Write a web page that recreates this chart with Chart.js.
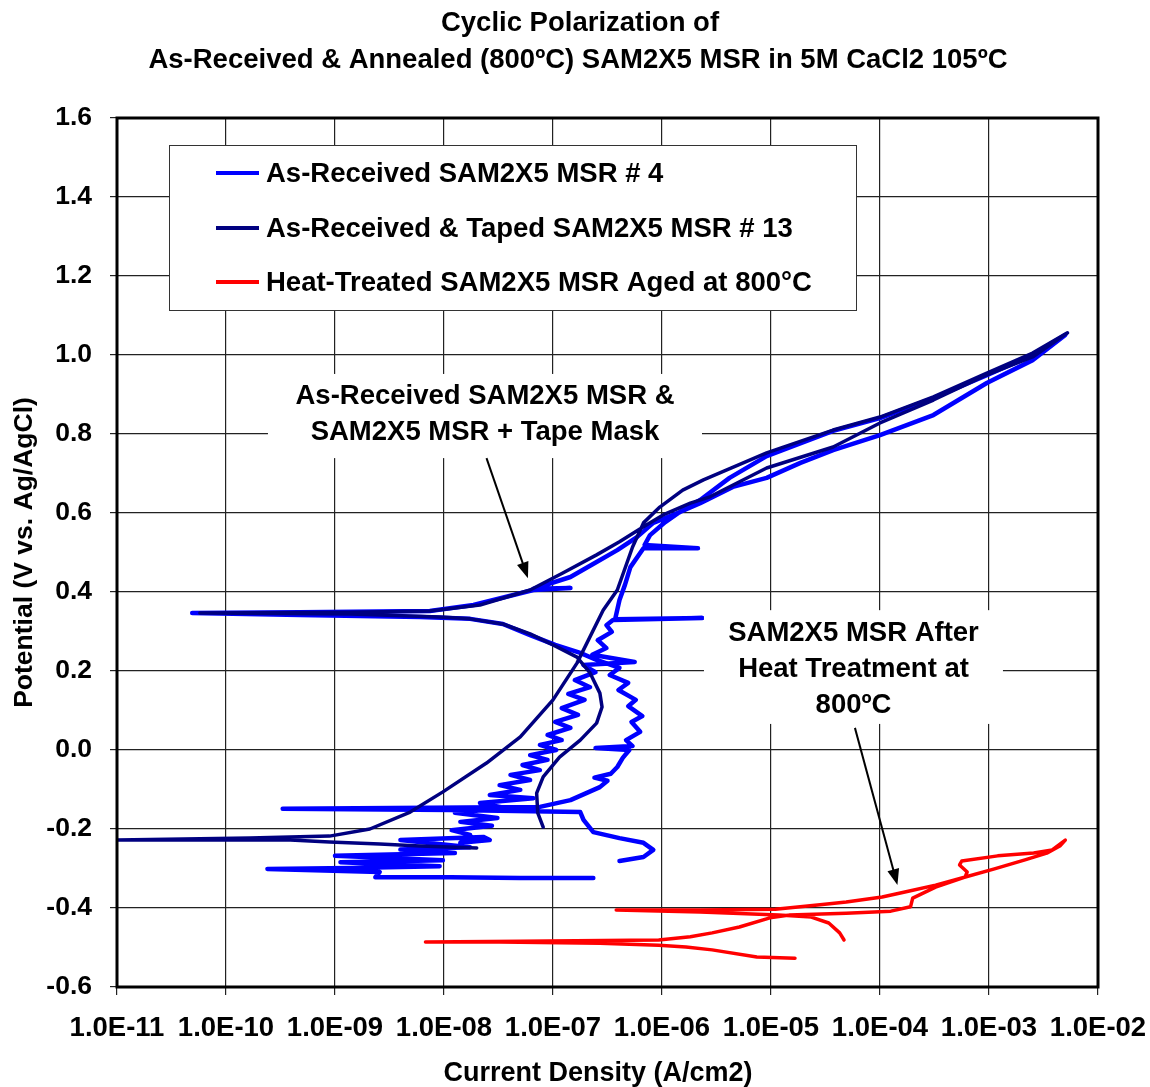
<!DOCTYPE html>
<html>
<head>
<meta charset="utf-8">
<title>Cyclic Polarization of SAM2X5 MSR</title>
<script src="https://cdn.jsdelivr.net/npm/chart.js@4.4.1/dist/chart.umd.min.js"></script>
<style>
  html, body { margin: 0; padding: 0; background: #fff; }
</style>
</head>
<body>
<canvas id="cpChart" width="1150" height="1087"></canvas>
<script>
const chartTitle = ['Cyclic Polarization of', 'As-Received & Annealed (800ºC) SAM2X5 MSR in 5M CaCl2 105ºC']
const seriesNames = [
    'As-Received SAM2X5 MSR # 4',
    'As-Received & Taped SAM2X5 MSR # 13',
    'Heat-Treated SAM2X5 MSR Aged at 800°C']
const seriesColors = ['#0000ff', '#000080', '#ff0000']

// decades shown on the current density axis (exponent of 10)
const xTickExp = [-11, -10, -9, -8, -7, -6, -5, -4, -3, -2]
const yTicks = [-0.6, -0.4, -0.2, 0.0, 0.2, 0.4, 0.6, 0.8, 1.0, 1.2, 1.4, 1.6]

// scans in acquisition order: log10 of current density (A/cm2), potential (V vs. Ag/AgCl)
const msr4LogI = [-6.63, -7.30, -7.94, -8.63, -8.59, -9.62, -8.86, -8.04, -8.95, -8.01,
    -9.00, -7.90, -8.40, -7.76, -8.40, -7.64, -7.58, -7.85,
    -7.76, -7.93, -7.56, -7.85, -7.51, -7.90, -7.44, -7.67, -7.18, -7.58,
    -7.30, -7.49, -7.21, -7.39, -7.12, -7.28, -7.05, -7.21, -6.97, -7.12,
    -6.92, -7.05, -6.84, -6.98, -6.77, -6.92, -6.71, -6.86, -6.66, -6.80,
    -6.61, -6.72, -6.25, -6.64, -6.51, -6.59, -6.46, -6.51, -6.45, -5.63,
    -6.43,
    -6.39, -6.34, -6.29, -6.17, -5.67, -6.16, -6.11, -5.97, -5.81, -5.65,
    -5.38, -5.04, -4.43, -4.00, -3.51, -3.02, -2.60, -2.30,
    -2.60, -3.02, -3.51, -4.00, -4.43, -4.73, -5.04, -5.35, -5.65, -5.83,
    -6.08, -6.23, -6.41, -6.60, -6.84, -7.18, -6.84, -7.18, -7.73, -8.13,
    -9.32, -10.31, -9.32, -8.22, -7.76, -7.46, -7.21, -6.98, -6.75, -6.60,
    -6.39, -6.48, -6.31, -6.40, -6.24, -6.31, -6.18, -6.28, -6.20, -6.33,
    -6.27, -6.61, -6.30, -6.36, -6.41, -6.47, -6.62, -6.50, -6.57, -6.84,
    -7.12, -9.48, -7.94, -6.75, -6.72, -6.63, -6.39, -6.17, -6.08, -6.17, -6.39]
const msr4E = [-0.324, -0.324, -0.322, -0.322, -0.309, -0.301, -0.299, -0.294, -0.284, -0.279,
    -0.268, -0.261, -0.252, -0.246, -0.228, -0.220, -0.228, -0.235,
    -0.215, -0.203, -0.192, -0.182, -0.172, -0.159, -0.147, -0.134, -0.122, -0.114,
    -0.101, -0.089, -0.076, -0.063, -0.051, -0.038, -0.025, -0.013, 0.000, 0.013,
    0.025, 0.038, 0.056, 0.071, 0.089, 0.106, 0.127, 0.142, 0.159, 0.177,
    0.197, 0.215, 0.223, 0.241, 0.258, 0.278, 0.299, 0.316, 0.329, 0.334,
    0.331,
    0.380, 0.418, 0.463, 0.511, 0.511, 0.519, 0.544, 0.577, 0.608, 0.633,
    0.689, 0.744, 0.808, 0.840, 0.891, 0.949, 1.000, 1.051,
    0.987, 0.929, 0.848, 0.797, 0.759, 0.727, 0.689, 0.666, 0.625, 0.603,
    0.575, 0.539, 0.506, 0.476, 0.438, 0.408, 0.410, 0.405, 0.367, 0.352,
    0.349, 0.347, 0.342, 0.337, 0.332, 0.319, 0.291, 0.266, 0.246, 0.228,
    0.208, 0.190, 0.170, 0.152, 0.127, 0.111, 0.086, 0.071, 0.046, 0.025,
    0.010, 0.005, 0.000, -0.020, -0.043, -0.060, -0.070, -0.078, -0.094, -0.127,
    -0.144, -0.149, -0.152, -0.157, -0.177, -0.208, -0.223, -0.235, -0.253, -0.271, -0.281]

const msr13LogI = [-7.70, -8.22, -8.59, -9.05, -9.41, -11.0, -9.78, -9.05, -8.68, -8.31,
    -8.01, -7.61, -7.30, -7.00, -6.78, -6.54, -6.41, -6.27, -6.17, -6.02,
    -5.81, -5.62, -5.04, -4.43, -4.00, -3.51, -3.02, -2.60, -2.28,
    -2.60, -3.02, -3.51, -4.00, -4.43, -5.04, -5.56, -5.74, -5.99, -6.17,
    -6.39, -6.60, -6.91, -7.21, -7.67, -8.13, -8.86, -10.24, -8.86, -8.04,
    -7.76, -7.46, -7.21, -7.00, -6.78, -6.66, -6.57, -6.55, -6.60, -6.75,
    -6.94, -7.09, -7.15, -7.14, -7.09]
const msr13E = [-0.248, -0.243, -0.238, -0.233, -0.228, -0.228, -0.223, -0.218, -0.200, -0.157,
    -0.106, -0.033, 0.033, 0.127, 0.220, 0.354, 0.405, 0.514, 0.575, 0.615,
    0.658, 0.684, 0.752, 0.810, 0.843, 0.894, 0.954, 1.005, 1.056,
    0.995, 0.950, 0.886, 0.828, 0.767, 0.714, 0.641, 0.625, 0.595, 0.565,
    0.527, 0.494, 0.448, 0.405, 0.367, 0.352, 0.349, 0.347, 0.344, 0.337,
    0.332, 0.319, 0.294, 0.266, 0.235, 0.195, 0.144, 0.109, 0.068, 0.025,
    -0.018, -0.068, -0.109, -0.159, -0.195]

const heatLogI = [-4.78, -5.13, -5.54, -5.78, -6.03, -6.57, -7.49, -8.17, -7.30, -6.03,
    -5.74, -5.54, -5.29, -5.01, -4.83, -4.31, -3.90, -3.72, -3.70, -3.49,
    -3.22, -3.20, -3.27, -3.25, -2.92, -2.59, -2.42, -2.30,
    -2.35, -2.47, -2.67, -2.95, -3.25, -3.49, -3.73, -3.98, -4.31, -4.55,
    -4.96, -5.65, -6.42, -5.65, -4.93, -4.63, -4.47, -4.37, -4.33]
const heatE = [-0.527, -0.524, -0.506, -0.499, -0.494, -0.489, -0.486, -0.486, -0.484, -0.481,
    -0.473, -0.463, -0.448, -0.425, -0.418, -0.413, -0.408, -0.397, -0.375, -0.347,
    -0.322, -0.309, -0.291, -0.281, -0.268, -0.261, -0.253, -0.228,
    -0.243, -0.261, -0.278, -0.301, -0.324, -0.342, -0.357, -0.372, -0.385, -0.392,
    -0.403, -0.405, -0.405, -0.410, -0.418, -0.423, -0.438, -0.463, -0.481]

function toPoints(logI, e) {
    return logI.map((v, i) => ({ x: Math.pow(10, v), y: e[i] }))
}

function expLabel(v) {
    const n = Math.round(Math.log10(v))
    return '1.0E' + (n < 0 ? '-' : '+') + String(Math.abs(n)).padStart(2, '0')
}

const fontFamily = "'Liberation Sans', Arial, sans-serif"
const boldFont = size => ({ family: fontFamily, size: size, weight: 'bold' })

// title, frame, legend box, x axis title and callouts drawn on top of the plot
const overlays = {
    id: 'overlays',
    afterDatasetsDraw(chart) {
        const ctx = chart.ctx
        const a = chart.chartArea
        const xs = chart.scales.x
        const ys = chart.scales.y
        const px = v => xs.getPixelForValue(Math.pow(10, v))
        const py = v => ys.getPixelForValue(v)
        ctx.save()

        ctx.strokeStyle = '#000'
        ctx.lineWidth = 3
        ctx.strokeRect(a.left, a.top, a.right - a.left, a.bottom - a.top)

        ctx.fillStyle = '#000'
        ctx.textAlign = 'center'
        ctx.textBaseline = 'middle'
        ctx.font = 'bold 27.5px ' + fontFamily
        ctx.fillText(chartTitle[0], 580, 23)
        ctx.fillText(chartTitle[1], 578, 60)
        ctx.font = 'bold 27px ' + fontFamily
        ctx.fillText('Current Density (A/cm2)', 598, 1074)

        // legend
        const lx = a.left + 52, ly = a.top + 27
        ctx.fillStyle = '#fff'
        ctx.fillRect(lx, ly, 687, 165)
        ctx.strokeStyle = '#333'
        ctx.lineWidth = 1
        ctx.strokeRect(lx + 0.5, ly + 0.5, 687, 165)
        ctx.font = 'bold 27.5px ' + fontFamily
        ctx.textAlign = 'left'
        const rows = [56, 111, 165]
        chart.data.datasets.forEach((ds, i) => {
            const ry = a.top + rows[i]
            ctx.strokeStyle = ds.borderColor
            ctx.lineWidth = 4
            ctx.beginPath()
            ctx.moveTo(a.left + 99, ry - 1)
            ctx.lineTo(a.left + 142, ry - 1)
            ctx.stroke()
            ctx.fillStyle = '#000'
            ctx.fillText(ds.label, a.left + 149, ry)
        })

        // callouts: white box, centred lines of text, arrow to the curves
        function note(box, cx, lines, arrow) {
            ctx.fillStyle = '#fff'
            ctx.fillRect(px(box[0]), py(box[1]), px(box[2]) - px(box[0]), py(box[3]) - py(box[1]))
            ctx.fillStyle = '#000'
            ctx.textAlign = 'center'
            lines.forEach(l => ctx.fillText(l[0], px(cx), py(l[1]) + 2))
            const x0 = px(arrow[0]), y0 = py(arrow[1]), x1 = px(arrow[2]), y1 = py(arrow[3])
            const ang = Math.atan2(y1 - y0, x1 - x0)
            ctx.strokeStyle = '#000'
            ctx.lineWidth = 2
            ctx.beginPath()
            ctx.moveTo(x0, y0)
            ctx.lineTo(x1 - 12 * Math.cos(ang), y1 - 12 * Math.sin(ang))
            ctx.stroke()
            ctx.beginPath()
            ctx.moveTo(x1, y1)
            ctx.lineTo(x1 - 16 * Math.cos(ang) + 6 * Math.sin(ang), y1 - 16 * Math.sin(ang) - 6 * Math.cos(ang))
            ctx.lineTo(x1 - 16 * Math.cos(ang) - 6 * Math.sin(ang), y1 - 16 * Math.sin(ang) + 6 * Math.cos(ang))
            ctx.closePath()
            ctx.fill()
        }
        note([-9.615, 0.952, -5.633, 0.739], -7.624,
            [['As-Received SAM2X5 MSR &', 0.901], ['SAM2X5 MSR + Tape Mask', 0.810]],
            [-7.61, 0.739, -7.23, 0.435])
        note([-5.615, 0.354, -2.872, 0.066], -4.243,
            [['SAM2X5 MSR After', 0.301], ['Heat Treatment at', 0.210], ['800ºC', 0.119]],
            [-4.23, 0.056, -3.84, -0.342])

        ctx.restore()
    }
}

Chart.defaults.color = '#000'
Chart.defaults.font = boldFont(26)

const cpCtx = document.getElementById('cpChart').getContext('2d')
const cpChart = new Chart(cpCtx, {
    type: 'scatter',
    data: {
        datasets: [
            { label: seriesNames[0], data: toPoints(msr4LogI, msr4E), borderColor: seriesColors[0], borderWidth: 4.5, order: 2 },
            { label: seriesNames[1], data: toPoints(msr13LogI, msr13E), borderColor: seriesColors[1], borderWidth: 3.5, order: 1 },
            { label: seriesNames[2], data: toPoints(heatLogI, heatE), borderColor: seriesColors[2], borderWidth: 3.5, order: 0 }
        ].map(ds => Object.assign(ds, {
            showLine: true, pointRadius: 0, tension: 0,
            borderJoinStyle: 'round', borderCapStyle: 'round'
        }))
    },
    options: {
        responsive: false,
        animation: false,
        devicePixelRatio: 1,
        layout: { padding: { left: 0, right: 52, top: 118, bottom: 0 } },
        plugins: {
            legend: { display: false },
            tooltip: { enabled: false },
            title: { display: false }
        },
        scales: {
            x: {
                type: 'logarithmic',
                min: 1e-11,
                max: 1e-2,
                afterBuildTicks: s => { s.ticks = xTickExp.map(n => ({ value: Math.pow(10, n) })) },
                afterFit: s => { s.height = 100; s.paddingLeft = 0; s.paddingRight = 0 },
                ticks: { callback: v => expLabel(v), maxRotation: 0, autoSkip: false, padding: 17, font: boldFont(27.5) },
                grid: { color: '#222', lineWidth: 1.2, tickLength: 8 },
                border: { display: false }
            },
            y: {
                min: -0.6,
                max: 1.6,
                afterBuildTicks: s => { s.ticks = yTicks.map(v => ({ value: v })) },
                afterFit: s => { s.width = 117; s.paddingTop = 0; s.paddingBottom = 0 },
                ticks: { callback: v => v.toFixed(1), padding: 18, font: boldFont(26.5) },
                grid: { color: '#222', lineWidth: 1.2, tickLength: 7 },
                border: { display: false },
                title: {
                    display: true, text: 'Potential (V vs. Ag/AgCl)',
                    font: boldFont(26.5), padding: { top: 9, bottom: 0 }
                }
            }
        }
    },
    plugins: [overlays]
})
</script>
</body>
</html>
